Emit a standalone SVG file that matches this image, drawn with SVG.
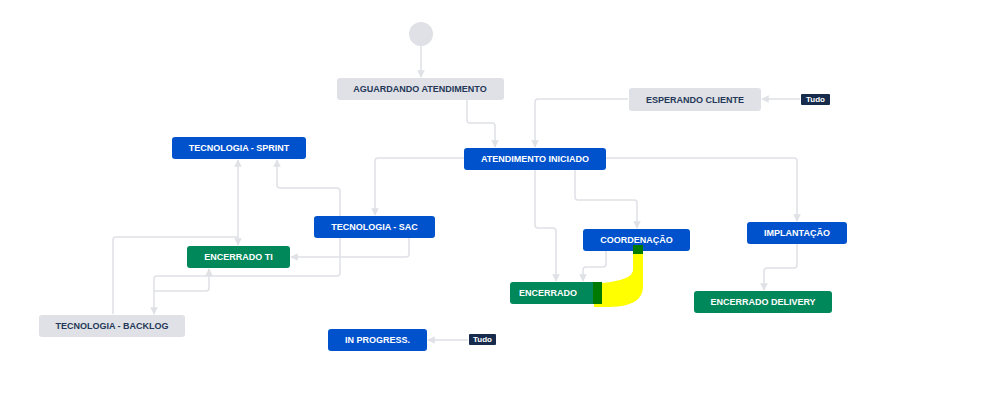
<svg xmlns="http://www.w3.org/2000/svg" width="998" height="414" viewBox="0 0 998 414">
<style>
.n rect{rx:3}
.b rect{fill:#0052cc}.g rect{fill:#00875a}.l rect{fill:#dfe1e6}
text{font-family:"Liberation Sans",Arial,sans-serif;font-size:9px;font-weight:bold;text-anchor:middle;dominant-baseline:central}
.b text,.g text{fill:#fff}.l text{fill:#253858}
#conn path{fill:none;stroke:#dfe1e6;stroke-width:1.5;stroke-linejoin:round;marker-end:url(#a)}
.t rect{fill:#172b4d}.t text{fill:#fff;font-size:8px}
</style>
<defs><marker id="a" viewBox="0 0 10 10" refX="9" refY="5" markerWidth="5" markerHeight="5" orient="auto-start-reverse"><path d="M0,0L10,5L0,10z" fill="#dfe1e6"/></marker></defs>
<rect width="998" height="414" fill="#fff"/>
<g id="conn">
<path d="M421,46V77"/>
<path d="M467,100V120Q467,123 470,123H492Q495,123 495,126V147"/>
<path d="M628,99H538Q535,99 535,102V147"/>
<path d="M464,158H378Q375,158 375,161V215"/>
<path d="M606,158H794Q797,158 797,161V221"/>
<path d="M535,170V225Q535,228 538,228H553Q556,228 556,231V281"/>
<path d="M575,170V197Q575,200 578,200H634Q637,200 637,203V228"/>
<path d="M606,251V264Q606,267 603,267H586Q583,267 583,270V281"/>
<path d="M797,244V265Q797,268 794,268H767Q764,268 764,271V290"/>
<path d="M800,99H762"/>
<path d="M468,340H428"/>
<path d="M340,216V191Q340,188 337,188H280Q277,188 277,185V160"/>
<path d="M238,245V160" style="marker-start:url(#a)"/>
<path d="M409,238V254Q409,257 406,257H291"/>
<path d="M340,238V273Q340,276 337,276H157Q154,276 154,279V314"/>
<path d="M154,291H206Q209,291 209,288V269"/>
<path d="M113,314V240Q113,237 116,237H238" style="marker-end:none"/>
</g>
<circle cx="421" cy="34" r="12" fill="#dfe1e6"/>
<g id="aguardando" class="n l"><rect x="337" y="78" width="167" height="22"/><text x="420" y="89">AGUARDANDO ATENDIMENTO</text></g>
<g id="esperando" class="n l"><rect x="629" y="88" width="132" height="23"/><text x="695" y="99.5">ESPERANDO CLIENTE</text></g>
<g id="tudo1" class="t"><rect x="801" y="94" width="29" height="11" rx="1"/><text x="815.5" y="99.5">Tudo</text></g>
<g id="iniciado" class="n b"><rect x="464" y="148" width="142" height="22"/><text x="535" y="159">ATENDIMENTO INICIADO</text></g>
<g id="sprint" class="n b"><rect x="172" y="137" width="134" height="22"/><text x="239" y="148">TECNOLOGIA - SPRINT</text></g>
<g id="sac" class="n b"><rect x="314" y="216" width="121" height="22"/><text x="374.5" y="227">TECNOLOGIA - SAC</text></g>
<g id="encerradoti" class="n g"><rect x="187" y="246" width="103" height="22"/><text x="238.5" y="257">ENCERRADO TI</text></g>
<g id="backlog" class="n l"><rect x="39" y="315" width="146" height="22"/><text x="112" y="326">TECNOLOGIA - BACKLOG</text></g>
<g id="inprogress" class="n b"><rect x="328" y="329" width="99" height="22"/><text x="377.5" y="340">IN PROGRESS.</text></g>
<g id="tudo2" class="t"><rect x="469" y="334" width="27" height="11" rx="1"/><text x="482.5" y="339.5">Tudo</text></g>
<g id="coord" class="n b"><rect x="583" y="229" width="107" height="22"/><text x="636.5" y="240">COORDENAÇÃO</text></g>
<g id="implantacao" class="n b"><rect x="747" y="222" width="100" height="22"/><text x="797" y="233">IMPLANTAÇÃO</text></g>
<g id="encerrado" class="n g"><rect x="510" y="282" width="92" height="22"/><text x="548" y="293">ENCERRADO</text></g>
<g id="delivery" class="n g"><rect x="694" y="291" width="138" height="22"/><text x="763" y="302">ENCERRADO DELIVERY</text></g>
<path d="M633,251H643V287Q643,306 610,307H594V283H602Q633,280 633,270Z" fill="#ffff00"/>
<rect x="633" y="245" width="10" height="9" fill="#007a00"/>
<rect x="593" y="282" width="9" height="22" fill="#007a00"/>
</svg>
